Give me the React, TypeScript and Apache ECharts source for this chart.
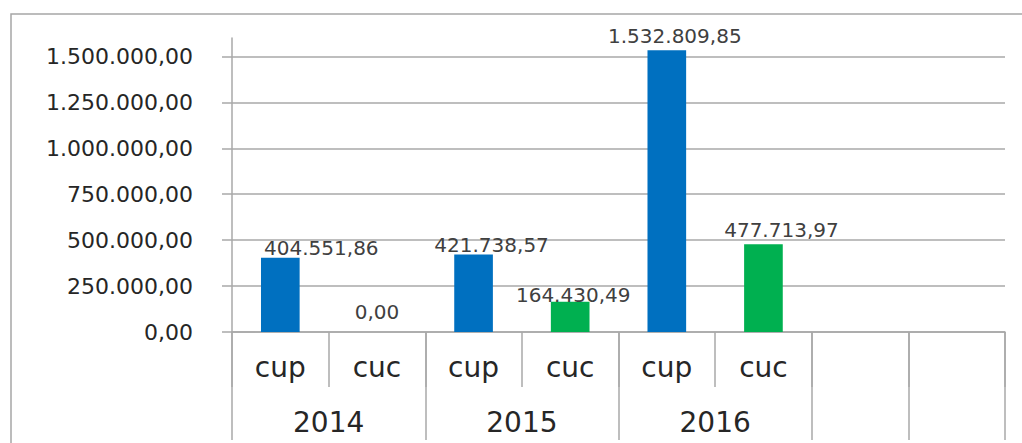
import React, { useEffect, useRef } from "react";
import * as echarts from "echarts";

const subCategories = ["cup", "cuc", "cup", "cuc", "cup", "cuc", "", ""];
const years = ["2014", "2015", "2016", ""];
const values: (number | null)[] = [404551.86, 0, 421738.57, 164430.49, 1532809.85, 477713.97, null, null];
const kinds = ["cup", "cuc", "cup", "cuc", "cup", "cuc", "", ""];

// styling: label nudges (px) per bar, as in the reference
const labelNudge: [number, number][] = [[41, 0], [0, -10], [18, 0], [3, 3], [8, -4], [18, -4], [0, 0], [0, 0]];
const colors: Record<string, string> = { cup: "#0070C0", cuc: "#00B050" };

function fmt(v: number): string {
  const neg = v < 0;
  const a = Math.abs(v);
  const fixed = a.toFixed(2);
  const [ip, dp] = fixed.split(".");
  const withDots = ip.replace(/\B(?=(\d{3})+(?!\d))/g, ".");
  return (neg ? "-" : "") + withDots + "," + dp;
}

const GRID = "#A8A8A8";
const FONT = "DejaVu Sans";

export default function App() {
  const ref = useRef<HTMLDivElement>(null);
  useEffect(() => {
    if (!ref.current) return;
    const chart = echarts.init(ref.current, undefined, { renderer: "svg" });
    const seriesData = values.map((v, i) => ({
      value: v,
      itemStyle: { color: colors[kinds[i]] || "#0070C0" },
      label: { offset: labelNudge[i] },
    }));
    chart.setOption({
      animation: false,
      backgroundColor: "#ffffff",
      graphic: [
        {
          type: "rect",
          silent: true,
          shape: { x: 11, y: 14, width: 1100, height: 600 },
          style: { fill: "none", stroke: "#A6A6A6", lineWidth: 1.5 },
        },
      ],
      grid: { left: 232, right: 17, top: 38, bottom: 111, containLabel: false },
      xAxis: [
        {
          type: "category",
          data: subCategories,
          position: "bottom",
          axisLine: { show: true, lineStyle: { color: GRID, width: 1.5 } },
          axisTick: { show: true, interval: 0, length: 55, alignWithLabel: false, lineStyle: { color: GRID, width: 1.5 } },
          axisLabel: { interval: 0, margin: 21, fontSize: 28, color: "#262626", fontFamily: FONT },
        },
        {
          type: "category",
          data: years,
          position: "bottom",
          axisLine: { show: false },
          axisTick: { show: false },
          axisLabel: { interval: 0, margin: 76, fontSize: 28, color: "#262626", fontFamily: FONT },
        },
        {
          type: "category",
          data: subCategories,
          position: "bottom",
          axisLine: { show: false },
          axisTick: {
            show: true,
            length: 108,
            alignWithLabel: false,
            interval: (i: number) => i % 2 === 0 || i === 7,
            lineStyle: { color: GRID, width: 1.5 },
          },
          axisLabel: { show: false },
        },
      ],
      yAxis: {
        type: "value",
        min: 0,
        max: 1600000,
        interval: 250000,
        axisLine: { show: true, lineStyle: { color: GRID, width: 1.5 } },
        axisTick: { show: true, length: 10, lineStyle: { color: GRID, width: 1.5 } },
        splitLine: { show: true, showMaxLine: false, lineStyle: { color: GRID, width: 1.5 } },
        axisLabel: {
          margin: 39,
          fontSize: 22,
          color: "#262626",
          fontFamily: FONT,
          showMaxLabel: false,
          formatter: (v: number) => fmt(v),
        },
      },
      series: [
        {
          type: "bar",
          xAxisIndex: 0,
          yAxisIndex: 0,
          data: seriesData,
          barWidth: "40%",
          label: {
            show: true,
            position: "top",
            distance: 0,
            fontSize: 20,
            color: "#404040",
            fontFamily: FONT,
            formatter: (p: any) => (p.value == null ? "" : fmt(p.value)),
          },
        },
      ],
    });
    return () => chart.dispose();
  }, []);
  return (
    <div
      ref={ref}
      style={{ position: "fixed", left: 0, top: 0, width: 1022, height: 443, background: "#fff" }}
    />
  );
}
